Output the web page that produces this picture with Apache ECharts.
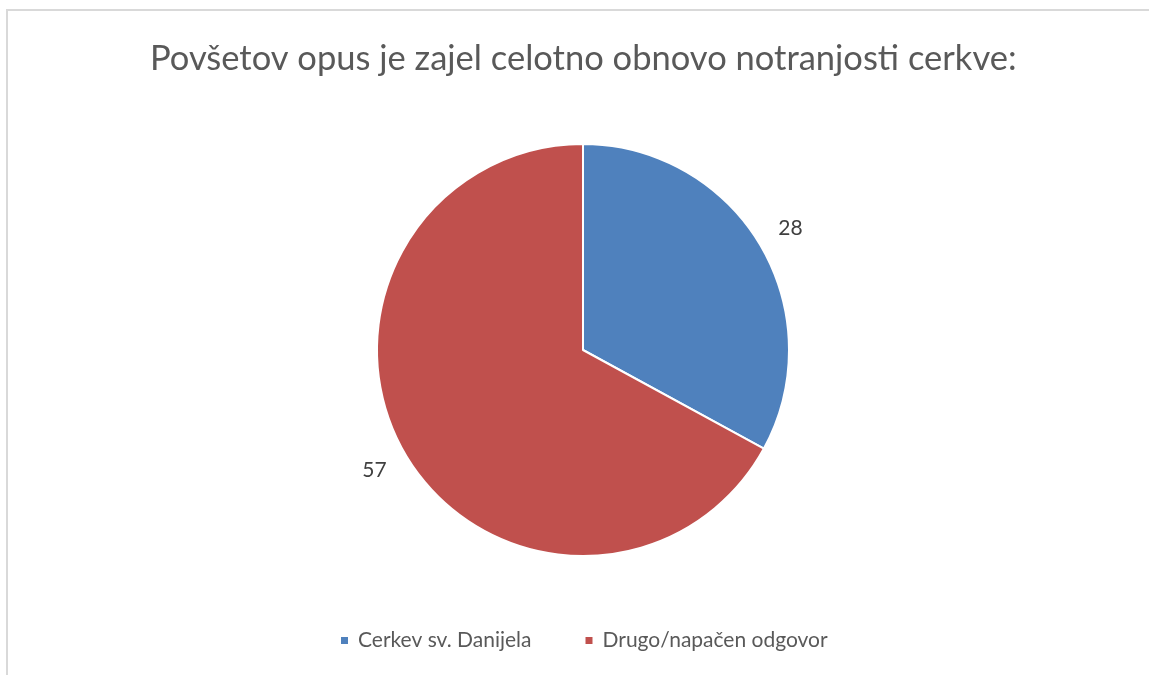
<!DOCTYPE html>
<html>
<head>
<meta charset="utf-8">
<script src="https://cdn.jsdelivr.net/npm/echarts@6/dist/echarts.min.js"></script>
<style>
  html, body { margin: 0; padding: 0; background: #fff; }
  #chart { width: 1149px; height: 675px; }
</style>
</head>
<body>
<div id="chart"></div>
<script>
// chart data
const categories = ['Cerkev sv. Danijela', 'Drugo/napačen odgovor']
const values = [28, 57]
const colors = ['#4F81BD', '#C0504D']
const titleText = 'Povšetov opus je zajel celotno obnovo notranjosti cerkve:'

const chart = echarts.init(document.getElementById('chart'))

chart.setOption({
  backgroundColor: '#fff',
  animation: false,
  title: {
    text: titleText,
    left: 145,
    top: 36,
    textStyle: {
      fontFamily: 'Lato',
      fontSize: 34.5,
      fontWeight: 'normal',
      color: '#595959'
    }
  },
  legend: {
    bottom: 19,
    left: 334,
    icon: 'rect',
    itemWidth: 9,
    itemHeight: 9,
    itemGap: 52,
    textStyle: {
      fontFamily: 'Lato',
      fontSize: 21,
      color: '#595959',
      padding: [0, 0, 0, 4]
    },
    data: categories
  },
  graphic: [{
    type: 'rect',
    shape: { x: 7, y: 10, width: 1160, height: 700 },
    style: { fill: 'none', stroke: '#D9D9D9', lineWidth: 2 },
    silent: true
  }],
  series: [{
    type: 'pie',
    center: [583, 350],
    radius: 206,
    startAngle: 90,
    clockwise: true,
    itemStyle: {
      borderColor: '#fff',
      borderWidth: 2
    },
    label: {
      show: true,
      position: 'outside',
      fontFamily: 'Lato',
      fontSize: 21,
      color: '#404040',
      formatter: '{c}'
    },
    labelLine: { show: false, length: 20, length2: 0 },
    emphasis: { disabled: true },
    data: categories.map((name, i) => ({
      name: name,
      value: values[i],
      itemStyle: { color: colors[i] },
      label: { offset: i === 0 ? [-4, -6] : [3, 5] }
    }))
  }]
})
</script>
</body>
</html>
